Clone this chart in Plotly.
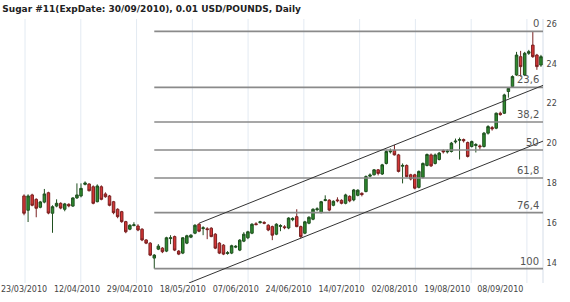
import plotly.graph_objects as go

# ---- data (bar index 0 = 23/03/2010, daily bars) ----
opens = [17.37, 16.65, 17.42, 17.20, 16.80, 17.06, 17.53, 16.50, 16.86, 17.00,
         16.70, 16.95, 16.86, 17.27, 17.37, 17.95, 17.97, 17.83, 17.08, 17.83,
         17.47, 17.37, 17.08, 16.70, 16.58, 16.08, 15.70, 15.88, 15.86, 15.70,
         15.16, 15.00, 14.25, 14.70, 14.75, 14.60, 15.23, 15.33, 14.60, 14.50,
         15.00, 15.30, 15.50, 15.95, 15.73, 15.72, 15.75, 15.45, 15.00, 14.90,
         14.48, 14.50, 14.80, 14.65, 15.10, 15.27, 15.50, 15.97, 16.03, 16.04,
         15.90, 15.83, 15.45, 15.84, 15.82, 15.76, 16.18, 16.33, 15.83, 15.50,
         16.00, 16.20, 16.68, 16.53, 17.14, 17.16, 16.90, 17.17, 17.15, 17.00,
         17.35, 17.17, 17.40, 17.50, 17.59, 18.36, 18.43, 18.68, 18.47, 19.00,
         19.58, 19.66, 19.43, 18.86, 18.90, 18.43, 18.43, 17.80, 18.30, 18.90,
         19.43, 19.00, 19.20, 19.65, 19.58, 19.60, 20.08, 20.16, 20.20, 20.05,
         19.85, 19.90, 19.88, 19.85, 20.52, 20.80, 20.77, 21.52, 21.52, 22.61,
         22.86, 23.44, 24.36, 23.44, 24.53, 24.94, 24.44, 23.94]
highs = [17.45, 17.45, 17.48, 17.25, 17.12, 17.72, 17.58, 16.90, 17.20, 17.05,
         17.02, 17.00, 17.30, 18.00, 18.00, 18.10, 18.00, 17.90, 17.95, 17.90,
         17.55, 17.42, 17.12, 16.75, 16.62, 16.12, 15.95, 16.05, 15.95, 15.75,
         15.20, 15.05, 14.45, 14.95, 14.80, 15.32, 15.40, 15.38, 14.65, 15.30,
         15.42, 15.45, 15.95, 16.00, 15.85, 15.80, 15.80, 15.50, 15.05, 14.95,
         14.60, 14.92, 14.90, 15.20, 15.55, 15.62, 16.00, 16.05, 16.12, 16.10,
         15.95, 15.88, 16.00, 15.95, 15.90, 16.30, 16.30, 16.70, 15.88, 16.12,
         16.35, 16.75, 16.80, 17.12, 17.40, 17.20, 17.15, 17.30, 17.20, 17.48,
         17.40, 17.72, 17.70, 17.55, 18.40, 18.50, 18.72, 18.72, 18.98, 19.66,
         19.75, 19.93, 19.48, 19.00, 18.95, 18.48, 18.48, 18.65, 19.05, 19.50,
         19.50, 19.50, 19.58, 19.70, 19.70, 20.08, 20.25, 20.30, 20.25, 20.10,
         20.15, 20.02, 19.95, 20.58, 20.92, 20.88, 21.56, 21.60, 22.50, 22.82,
         23.42, 24.60, 24.65, 24.60, 24.70, 25.63, 24.50, 24.45]
lows = [16.40, 16.06, 16.85, 16.30, 16.75, 17.00, 16.45, 15.52, 16.80, 16.70,
        16.60, 16.80, 16.82, 17.22, 17.30, 17.90, 17.60, 16.95, 17.05, 17.15,
        17.28, 16.85, 16.45, 16.25, 16.02, 15.50, 15.65, 15.85, 15.60, 15.10,
        14.95, 14.35, 13.72, 14.65, 14.50, 14.55, 14.95, 14.60, 14.40, 14.45,
        14.95, 15.25, 15.45, 15.55, 15.40, 15.20, 15.30, 14.70, 14.45, 14.40,
        14.42, 14.45, 14.75, 14.60, 15.05, 15.20, 15.45, 15.90, 15.98, 15.95,
        15.60, 15.15, 15.40, 15.60, 15.70, 15.70, 16.10, 15.80, 15.25, 15.45,
        15.95, 16.15, 16.60, 16.50, 17.10, 16.60, 16.85, 17.05, 16.95, 16.95,
        17.05, 17.10, 17.35, 17.35, 17.55, 18.30, 18.40, 18.40, 18.42, 18.95,
        19.50, 19.40, 18.55, 18.00, 18.30, 18.15, 17.70, 17.75, 18.25, 18.85,
        18.82, 18.95, 19.15, 19.50, 19.50, 19.55, 20.00, 19.20, 20.05, 19.30,
        19.80, 19.55, 19.70, 19.80, 20.45, 20.65, 20.72, 21.40, 21.48, 22.30,
        22.80, 23.40, 23.36, 23.40, 24.45, 24.30, 23.70, 23.85]
closes = [16.50, 17.37, 16.90, 16.75, 17.07, 17.47, 16.51, 16.83, 17.00, 16.76,
          16.97, 16.87, 17.27, 17.42, 17.75, 18.02, 17.63, 17.00, 17.87, 17.20,
          17.33, 16.90, 16.53, 16.33, 16.08, 15.57, 15.90, 15.92, 15.66, 15.16,
          15.00, 14.40, 14.40, 14.85, 14.57, 15.27, 15.27, 14.65, 14.45, 15.27,
          15.37, 15.40, 15.90, 15.60, 15.77, 15.68, 15.33, 14.75, 14.50, 14.45,
          14.52, 14.87, 14.84, 15.15, 15.45, 15.57, 15.95, 15.93, 16.07, 16.00,
          15.66, 15.40, 15.95, 15.88, 15.78, 16.26, 16.24, 15.83, 15.33, 16.07,
          16.30, 16.70, 16.72, 17.08, 17.18, 16.66, 17.10, 17.13, 17.00, 17.42,
          17.12, 17.67, 17.66, 17.44, 18.34, 18.42, 18.68, 18.50, 18.93, 19.60,
          19.62, 19.43, 18.60, 18.90, 18.34, 18.22, 17.76, 18.60, 19.00, 19.45,
          18.88, 19.43, 19.52, 19.58, 19.62, 20.02, 20.12, 20.20, 20.14, 19.35,
          20.10, 19.95, 19.84, 20.52, 20.85, 20.74, 21.52, 21.45, 22.44, 22.77,
          23.36, 24.44, 23.86, 24.53, 24.61, 24.36, 23.86, 24.36]

tick_every = 13
tick_labels = ["23/03/2010", "12/04/2010", "29/04/2010", "18/05/2010", "07/06/2010",
               "24/06/2010", "14/07/2010", "02/08/2010", "19/08/2010", "08/09/2010"]

fib_high = 25.63
fib_low = 13.72
fib_start_bar = 32
fib_pcts = [0, 23.6, 38.2, 50, 61.8, 76.4, 100]
fib_labels = ["0", "23,6", "38,2", "50", "61,8", "76,4", "100"]

# channel anchors (bar index, price)
upper_a = (43, 16.00)
upper_b = (91, 19.93)
lower_a = (68, 15.25)

y_ticks = [14, 16, 18, 20, 22, 24, 26]

# ---- figure ----
n = len(closes)
xs = list(range(n))
x_min, x_max = -5.9, 127.5
y_min, y_max = 13.0, 26.25

fig = go.Figure()

fig.add_trace(go.Candlestick(
    x=xs, open=opens, high=highs, low=lows, close=closes,
    increasing=dict(line=dict(color="#1f4f1f", width=1), fillcolor="#2e8b2e"),
    decreasing=dict(line=dict(color="#7a2020", width=1), fillcolor="#d43535"),
    whiskerwidth=0, showlegend=False, hoverinfo="skip"))

# fibonacci levels
for p, lab in zip(fib_pcts, fib_labels):
    lvl = fib_high - p / 100.0 * (fib_high - fib_low)
    fig.add_trace(go.Scatter(x=[fib_start_bar, x_max], y=[lvl, lvl], mode="lines",
                             line=dict(color="#8a8a8a", width=1.6),
                             showlegend=False, hoverinfo="skip"))
    fig.add_annotation(x=x_max - 0.4, y=lvl, text=lab, showarrow=False,
                       xanchor="right", yanchor="bottom", yshift=0,
                       font=dict(family="DejaVu Sans", size=10, color="#555555"))

# channel lines
slope = (upper_b[1] - upper_a[1]) / (upper_b[0] - upper_a[0])
ux = [upper_a[0], x_max]
uy = [upper_a[1], upper_a[1] + slope * (x_max - upper_a[0])]
lx0 = 40.5
lx = [lx0, x_max]
ly = [lower_a[1] + slope * (lx0 - lower_a[0]), lower_a[1] + slope * (x_max - lower_a[0])]
for cx, cy in ((ux, uy), (lx, ly)):
    fig.add_trace(go.Scatter(x=cx, y=cy, mode="lines",
                             line=dict(color="#333333", width=1),
                             showlegend=False, hoverinfo="skip"))

# vertical grid lines
grid_start, grid_step = 0.25, 13.7
shapes = []
g = grid_start
while g < x_max:
    shapes.append(dict(type="line", xref="x", yref="paper", x0=g, x1=g, y0=0, y1=1,
                       line=dict(color="#e3eaf2", width=1), layer="below"))
    g += grid_step
shapes.append(dict(type="line", xref="paper", yref="paper", x0=1, x1=1, y0=0, y1=1,
                   line=dict(color="#d5dde8", width=1), layer="below"))

fig.update_layout(
    width=570, height=302,
    margin=dict(l=0, r=27, t=19, b=19),
    paper_bgcolor="white", plot_bgcolor="white",
    shapes=shapes,
    boxgap=0.12,
    title=dict(text="<b>Sugar #11(ExpDate: 30/09/2010), 0.01 USD/POUNDS, Daily</b>",
               x=0.004, xanchor="left", y=0.97, yanchor="middle",
               font=dict(family="DejaVu Sans", size=9, color="#222222")),
    xaxis=dict(range=[x_min, x_max], showgrid=False, zeroline=False,
               rangeslider=dict(visible=False),
               tickvals=list(range(0, n, tick_every))[:len(tick_labels)],
               ticktext=tick_labels, ticks="", showline=False,
               tickfont=dict(family="DejaVu Sans", size=8, color="#444444")),
    yaxis=dict(range=[y_min, y_max], side="right", showgrid=False, zeroline=False,
               tickvals=y_ticks, ticks="outside", ticklen=1, tickcolor="white",
               showline=False,
               tickfont=dict(family="DejaVu Sans", size=8, color="#444444")),
)

fig.write_html("out.html")
